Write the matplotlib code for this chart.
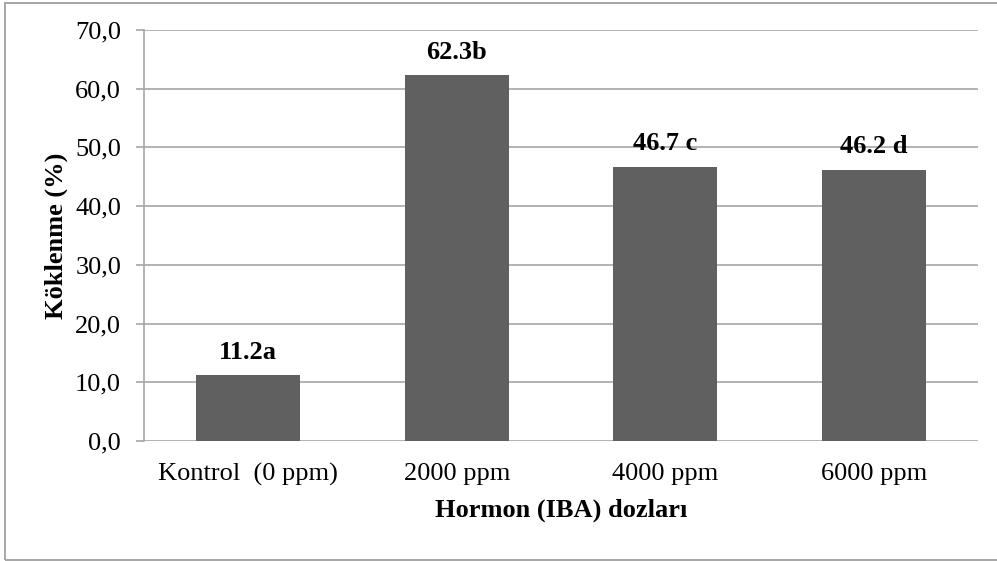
import matplotlib
matplotlib.use("Agg")
import matplotlib.pyplot as plt
from matplotlib.patches import Rectangle

categories = ["Kontrol  (0 ppm)", "2000 ppm", "4000 ppm", "6000 ppm"]
values = [11.2, 62.3, 46.7, 46.2]
labels = ["11.2a", "62.3b", "46.7 c", "46.2 d"]
yticks = [0, 10, 20, 30, 40, 50, 60, 70]
ytick_labels = ["0,0", "10,0", "20,0", "30,0", "40,0", "50,0", "60,0", "70,0"]

plt.rcParams['font.family'] = ['Liberation Serif', 'DejaVu Serif']

W, H = 997, 561
fig = plt.figure(figsize=(W / 100, H / 100), dpi=100)
fig.patch.set_facecolor('white')

# outer chart border
fig.add_artist(Rectangle((5 / W, 1.5 / H), 2.0, (558 / H) - (1.5 / H),
                         transform=fig.transFigure, fill=False,
                         edgecolor='#A6A6A6', linewidth=1.4))

ax = fig.add_axes([144 / W, (H - 441) / H, (978 - 144) / W, 411 / H])

grid_color = '#A6A6A6'
bar_color = '#606060'
FS = 19

x = list(range(len(categories)))
ax.bar(x, values, width=0.5, color=bar_color, zorder=3)
ax.set_xlim(-0.5, len(categories) - 0.5)
ax.set_ylim(0, 70)

ax.set_yticks(yticks)
ax.set_yticklabels(ytick_labels, fontsize=FS)
ax.set_xticks(x)
ax.set_xticklabels(categories, fontsize=FS)

ax.yaxis.grid(True, color=grid_color, linewidth=1.2, zorder=0)
ax.set_axisbelow(True)

for s in ['top', 'right', 'bottom']:
    ax.spines[s].set_visible(False)
ax.spines['left'].set_color(grid_color)
ax.spines['left'].set_linewidth(1.2)

ax.tick_params(axis='y', length=6, width=1.2, color=grid_color, pad=10.5, labelcolor='black')
ax.tick_params(axis='x', length=0, pad=16, labelcolor='black')

for xi, v, lab in zip(x, values, labels):
    ax.annotate(lab, (xi, v), xytext=(0, 12), textcoords='offset points',
                ha='center', va='baseline', fontsize=FS, fontweight='bold', zorder=4)

ax.set_ylabel("Köklenme (%)", fontsize=FS, fontweight='bold', labelpad=5)
fig.text(561 / W, (H - 517) / H, "Hormon (IBA) dozları", fontsize=FS,
         fontweight='bold', ha='center', va='baseline')

fig.savefig("out.png", dpi=100, facecolor='white')
